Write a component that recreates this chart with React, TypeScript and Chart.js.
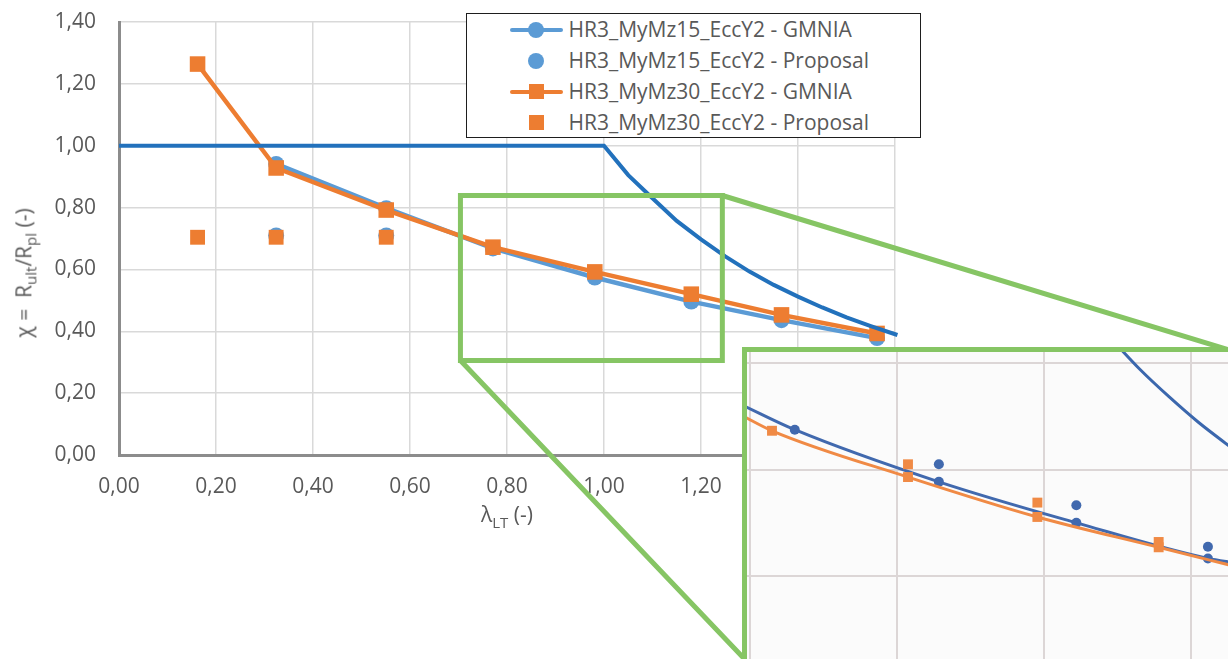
import React, { useEffect, useRef } from 'react';
import { Chart, registerables } from 'chart.js';

Chart.register(...registerables);

// ---------- main chart data ----------
const xTicksMax = 1.6;
const yTicksMax = 1.4;
const tickStep = 0.2;

// elastic critical reference curve (plateau, then hyperbolic decay)
const lambdaRef = [0, 1.0, 1.05, 1.1, 1.15, 1.2, 1.25, 1.3, 1.35, 1.4, 1.45, 1.5, 1.55, 1.605];
const chiRef = [1.0, 1.0, 0.905, 0.83, 0.757, 0.697, 0.642, 0.593, 0.55, 0.512, 0.477, 0.445, 0.417, 0.388];

const lambdaMz15 = [0.324, 0.551, 0.771, 0.981, 1.18, 1.366, 1.563];
const chiMz15Gmnia = [0.941, 0.798, 0.668, 0.574, 0.496, 0.436, 0.378];
const lambdaMz15Prop = [0.324, 0.551];
const chiMz15Prop = [0.71, 0.71];

const lambdaMz30 = [0.162, 0.324, 0.551, 0.771, 0.981, 1.18, 1.366, 1.563];
const chiMz30Gmnia = [1.264, 0.928, 0.792, 0.672, 0.592, 0.52, 0.453, 0.393];
const lambdaMz30Prop = [0.162, 0.324, 0.551];
const chiMz30Prop = [0.704, 0.704, 0.704];

const seriesLabels = [
  'HR3_MyMz15_EccY2 - GMNIA',
  'HR3_MyMz15_EccY2 - Proposal',
  'HR3_MyMz30_EccY2 - GMNIA',
  'HR3_MyMz30_EccY2 - Proposal',
];

// zoomed window, in axis units
const zoomLambda = [0.704, 1.244];
const zoomChi = [0.3055, 0.839];

// ---------- detail view data ----------
const insetLambdaRange = [0.596, 1.2503];
const insetChiRange = [0.2441, 0.821];
const insetLambdaGrid = [0.6, 0.8, 1.0, 1.2];
const insetChiGrid = [0.4, 0.6, 0.8];

const insetLambdaRef = [1.09, 1.13, 1.17, 1.21, 1.26];
const insetChiRef = [0.848, 0.789, 0.737, 0.689, 0.636];

const insetLambdaMz15 = [0.59, 0.661, 0.857, 1.044, 1.223, 1.26];
const insetChiMz15 = [0.721, 0.675, 0.577, 0.5, 0.433, 0.425];
const insetMz15Markers = [0, 1, 1, 1, 1, 0];
const insetLambdaMz15Prop = [0.857, 1.044, 1.223];
const insetChiMz15Prop = [0.61, 0.533, 0.455];

const insetLambdaMz30 = [0.59, 0.63, 0.815, 0.991, 1.156, 1.26];
const insetChiMz30 = [0.701, 0.673, 0.586, 0.511, 0.454, 0.418];
const insetMz30Markers = [0, 1, 1, 1, 1, 0];
const insetLambdaMz30Prop = [0.815, 0.991, 1.156];
const insetChiMz30Prop = [0.61, 0.538, 0.464];

// ---------- styling ----------
const BLUE = '#5B9BD5';
const ORANGE = '#ED7D31';
const REF_BLUE = '#2271BC';
const GREEN = '#86C564';
const TEXT = '#595959';
const FONT = '"Open Sans", sans-serif';
const FONT_SIZE = 21;

const W = 1228;
const H = 659;
const PLOT_LEFT = 119;
const PLOT_TOP = 22;
const PLOT_RIGHT = 895;
const PLOT_BOTTOM = 455;
const INSET_LEFT = 742;
const INSET_TOP = 347;
const INSET_BORDER = 5;
const INSET_W = W - INSET_LEFT - INSET_BORDER;
const INSET_H = H - INSET_TOP - INSET_BORDER;

const pts = (xs: number[], ys: number[]) => xs.map((x, i) => ({ x, y: ys[i] }));
const comma = (v: number) => Number(v).toFixed(2).replace('.', ',');

const zoomFramePlugin = {
  id: 'zoomFrame',
  afterDatasetsDraw(chart: any) {
    const { ctx, scales } = chart;
    const x0 = scales.x.getPixelForValue(zoomLambda[0]);
    const x1 = scales.x.getPixelForValue(zoomLambda[1]);
    const y0 = scales.y.getPixelForValue(zoomChi[1]);
    const y1 = scales.y.getPixelForValue(zoomChi[0]);
    const insetL = INSET_LEFT + INSET_BORDER / 2;
    const insetT = INSET_TOP + INSET_BORDER / 2;
    ctx.save();
    ctx.strokeStyle = GREEN;
    ctx.lineWidth = 5;
    ctx.strokeRect(x0, y0, x1 - x0, y1 - y0);
    ctx.beginPath();
    ctx.moveTo(x1, y0);
    ctx.lineTo(W, insetT);
    ctx.moveTo(x0, y1);
    ctx.lineTo(insetL, H);
    ctx.stroke();
    ctx.restore();
  },
};

const legendItems = [
  { label: seriesLabels[0], color: BLUE, line: true, shape: 'circle' },
  { label: seriesLabels[1], color: BLUE, line: false, shape: 'circle' },
  { label: seriesLabels[2], color: ORANGE, line: true, shape: 'square' },
  { label: seriesLabels[3], color: ORANGE, line: false, shape: 'square' },
];

export default function App() {
  const mainRef = useRef<HTMLCanvasElement | null>(null);
  const insetRef = useRef<HTMLCanvasElement | null>(null);

  useEffect(() => {
    document.body.style.margin = '0';
    Chart.defaults.font.family = FONT;

    const main = new Chart(mainRef.current as HTMLCanvasElement, {
      type: 'scatter',
      data: {
        datasets: [
          {
            label: 'reference',
            data: pts(lambdaRef, chiRef),
            showLine: true,
            borderColor: REF_BLUE,
            borderWidth: 4,
            pointRadius: 0,
            tension: 0,
            order: 0,
            clip: 6,
          },
          {
            label: seriesLabels[2],
            data: pts(lambdaMz30, chiMz30Gmnia),
            showLine: true,
            borderColor: ORANGE,
            borderWidth: 4.5,
            pointStyle: 'rect',
            pointRadius: 11,
            pointBackgroundColor: ORANGE,
            pointBorderWidth: 0,
            order: 1,
          },
          {
            label: seriesLabels[3],
            data: pts(lambdaMz30Prop, chiMz30Prop),
            showLine: false,
            pointStyle: 'rect',
            pointRadius: 10.5,
            pointBackgroundColor: ORANGE,
            pointBorderWidth: 0,
            order: 2,
          },
          {
            label: seriesLabels[1],
            data: pts(lambdaMz15Prop, chiMz15Prop),
            showLine: false,
            pointStyle: 'circle',
            pointRadius: 8,
            pointBackgroundColor: BLUE,
            pointBorderWidth: 0,
            order: 3,
          },
          {
            label: seriesLabels[0],
            data: pts(lambdaMz15, chiMz15Gmnia),
            showLine: true,
            borderColor: BLUE,
            borderWidth: 4.5,
            pointStyle: 'circle',
            pointRadius: 8,
            pointBackgroundColor: BLUE,
            pointBorderWidth: 0,
            order: 4,
          },
        ],
      },
      options: {
        responsive: false,
        animation: false,
        devicePixelRatio: 1,
        events: [],
        layout: {
          autoPadding: false,
          padding: { left: 0, top: PLOT_TOP, right: W - PLOT_RIGHT, bottom: 0 },
        },
        plugins: { legend: { display: false }, tooltip: { enabled: false } },
        scales: {
          x: {
            type: 'linear',
            min: 0,
            max: xTicksMax,
            ticks: {
              stepSize: tickStep,
              callback: (v: any) => comma(v),
              color: TEXT,
              font: { size: FONT_SIZE, family: FONT },
              padding: 19,
              maxRotation: 0,
            },
            grid: { color: '#d9d9d9', lineWidth: 1.5, drawTicks: false },
            border: { color: '#8c8c8c', width: 3 },
            afterFit: (scale: any) => {
              scale.height = H - PLOT_BOTTOM;
              scale.paddingLeft = 0;
              scale.paddingRight = 0;
            },
          },
          y: {
            type: 'linear',
            min: 0,
            max: yTicksMax,
            ticks: {
              stepSize: tickStep,
              callback: (v: any) => comma(v),
              color: TEXT,
              font: { size: FONT_SIZE, family: FONT },
              padding: 23,
            },
            grid: { color: '#d9d9d9', lineWidth: 1.5, drawTicks: false },
            border: { color: '#8c8c8c', width: 3 },
            afterFit: (scale: any) => {
              scale.width = PLOT_LEFT;
              scale.paddingTop = 0;
              scale.paddingBottom = 0;
            },
          },
        },
      },
      plugins: [zoomFramePlugin],
    } as any);

    const gridOnly = (grid: number[], min: number, max: number, horizontal: boolean) => ({
      type: 'linear',
      min,
      max,
      ticks: { display: false },
      grid: { color: '#dcd6d6', lineWidth: 2, drawTicks: false },
      border: { display: false },
      afterBuildTicks: (scale: any) => {
        scale.ticks = grid.map((value) => ({ value }));
      },
      afterFit: (scale: any) => {
        if (horizontal) scale.height = 0;
        else scale.width = 0;
        scale.paddingTop = 0;
        scale.paddingBottom = 0;
        scale.paddingLeft = 0;
        scale.paddingRight = 0;
      },
    });

    const inset = new Chart(insetRef.current as HTMLCanvasElement, {
      type: 'scatter',
      data: {
        datasets: [
          {
            label: 'reference',
            data: pts(insetLambdaRef, insetChiRef),
            showLine: true,
            borderColor: '#3b67ad',
            borderWidth: 3,
            pointRadius: 0,
            cubicInterpolationMode: 'monotone',
            order: 0,
          },
          {
            label: seriesLabels[3],
            data: pts(insetLambdaMz30Prop, insetChiMz30Prop),
            showLine: false,
            pointStyle: 'rect',
            pointRadius: 7,
            pointBackgroundColor: '#f08a45',
            pointBorderWidth: 0,
            order: 1,
          },
          {
            label: seriesLabels[1],
            data: pts(insetLambdaMz15Prop, insetChiMz15Prop),
            showLine: false,
            pointStyle: 'circle',
            pointRadius: 5,
            pointBackgroundColor: '#4169ae',
            pointBorderWidth: 0,
            order: 2,
          },
          {
            label: seriesLabels[2],
            data: pts(insetLambdaMz30, insetChiMz30),
            showLine: true,
            borderColor: '#f08a45',
            borderWidth: 3,
            cubicInterpolationMode: 'monotone',
            pointStyle: 'rect',
            pointRadius: insetMz30Markers.map((m) => m * 7),
            pointBackgroundColor: '#f08a45',
            pointBorderWidth: 0,
            order: 3,
          },
          {
            label: seriesLabels[0],
            data: pts(insetLambdaMz15, insetChiMz15),
            showLine: true,
            borderColor: '#4169ae',
            borderWidth: 3,
            cubicInterpolationMode: 'monotone',
            pointStyle: 'circle',
            pointRadius: insetMz15Markers.map((m) => m * 5),
            pointBackgroundColor: '#4169ae',
            pointBorderWidth: 0,
            order: 4,
          },
        ],
      },
      options: {
        responsive: false,
        animation: false,
        devicePixelRatio: 1,
        events: [],
        layout: { autoPadding: false, padding: 0 },
        plugins: { legend: { display: false }, tooltip: { enabled: false } },
        scales: {
          x: gridOnly(insetLambdaGrid, insetLambdaRange[0], insetLambdaRange[1], true),
          y: gridOnly(insetChiGrid, insetChiRange[0], insetChiRange[1], false),
        },
      },
    } as any);

    return () => {
      main.destroy();
      inset.destroy();
    };
  }, []);

  const subStyle = { fontSize: 15 };

  return (
    <div
      style={{
        position: 'absolute',
        left: 0,
        top: 0,
        width: W,
        height: H,
        overflow: 'hidden',
        background: '#fff',
        fontFamily: FONT,
      }}
    >
      <canvas ref={mainRef} width={W} height={H} style={{ position: 'absolute', left: 0, top: 0 }} />

      {/* y axis title */}
      <div
        style={{
          position: 'absolute',
          left: 27,
          top: 273,
          transform: 'translate(-50%, -50%) rotate(-90deg)',
          whiteSpace: 'nowrap',
          fontSize: FONT_SIZE,
          color: TEXT,
          lineHeight: '24px',
        }}
      >
        χ&nbsp;=&nbsp; R<sub style={subStyle}>ult</sub>/R<sub style={subStyle}>pl</sub> (-)
      </div>

      {/* x axis title */}
      <div
        style={{
          position: 'absolute',
          left: 507,
          top: 518,
          transform: 'translate(-50%, -50%)',
          whiteSpace: 'nowrap',
          fontSize: FONT_SIZE,
          color: TEXT,
          lineHeight: '24px',
        }}
      >
        λ<sub style={subStyle}>LT</sub> (-)
      </div>

      {/* legend */}
      <div
        style={{
          position: 'absolute',
          left: 466,
          top: 13,
          width: 455,
          height: 125,
          boxSizing: 'border-box',
          border: '1.5px solid #1e1e1e',
          background: '#fff',
        }}
      >
        {legendItems.map((item, i) => {
          const size = item.shape === 'circle' ? 16 : 15;
          return (
            <React.Fragment key={item.label}>
              <div style={{ position: 'absolute', left: 42.5, top: i * 31, width: 53, height: 31 }}>
                {item.line && (
                  <div
                    style={{
                      position: 'absolute',
                      left: 0,
                      top: 13.5,
                      width: 53,
                      height: 4,
                      borderRadius: 2,
                      background: item.color,
                    }}
                  />
                )}
                <div
                  style={{
                    position: 'absolute',
                    left: 26.5 - size / 2,
                    top: 15.5 - size / 2,
                    width: size,
                    height: size,
                    borderRadius: item.shape === 'circle' ? '50%' : 0,
                    background: item.color,
                  }}
                />
              </div>
              <div
                style={{
                  position: 'absolute',
                  left: 101.5,
                  top: i * 31,
                  lineHeight: '31px',
                  fontSize: FONT_SIZE,
                  color: TEXT,
                  whiteSpace: 'nowrap',
                }}
              >
                {item.label}
              </div>
            </React.Fragment>
          );
        })}
      </div>

      {/* magnified detail */}
      <div
        style={{
          position: 'absolute',
          left: INSET_LEFT,
          top: INSET_TOP,
          width: W - INSET_LEFT + 20,
          height: H - INSET_TOP + 20,
          border: `${INSET_BORDER}px solid ${GREEN}`,
          background: '#fbfbfb',
          overflow: 'hidden',
        }}
      >
        <canvas
          ref={insetRef}
          width={INSET_W}
          height={INSET_H}
          style={{ position: 'absolute', left: 0, top: 0, filter: 'blur(0.6px)' }}
        />
      </div>
    </div>
  );
}
